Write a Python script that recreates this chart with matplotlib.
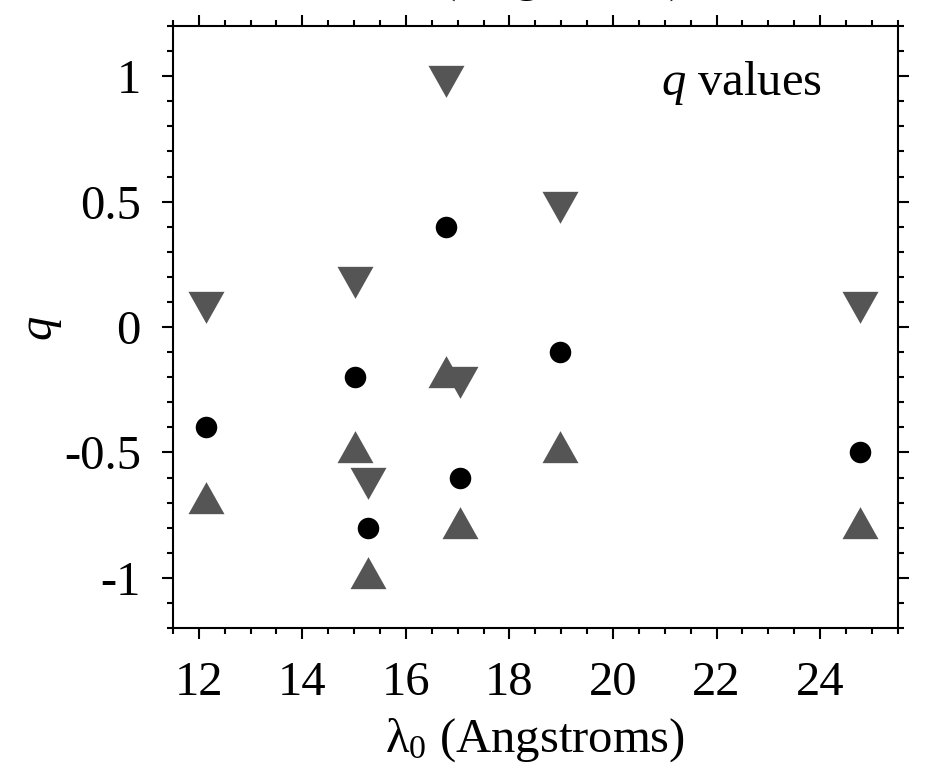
import numpy as np
import matplotlib
matplotlib.use("Agg")
import matplotlib.pyplot as plt

plt.rcParams["font.family"] = ["Liberation Serif", "DejaVu Serif"]
plt.rcParams["mathtext.fontset"] = "custom"
plt.rcParams["mathtext.rm"] = "Liberation Serif"
plt.rcParams["mathtext.it"] = "Liberation Serif:italic"
plt.rcParams["axes.unicode_minus"] = False

# line wavelengths (Angstroms) and q values
wavelength = [12.13, 15.01, 15.26, 16.78, 17.05, 18.97, 24.78]
q_best = [-0.4, -0.2, -0.8, 0.4, -0.6, -0.1, -0.5]
q_upper = [0.1, 0.2, -0.6, 1.0, -0.2, 0.5, 0.1]
q_lower = [-0.7, -0.5, -1.0, -0.2, -0.8, -0.5, -0.8]

x_ticks = [12, 14, 16, 18, 20, 22, 24]
y_ticks = [-1, -0.5, 0, 0.5, 1]
y_tick_labels = ["-1", "-0.5", "0", "0.5", "1"]

# triangles centred on their centroid
w, h = 36.0, 32.0
tri_up = [(0, 2 * h / 3), (-w / 2, -h / 3), (w / 2, -h / 3), (0, 2 * h / 3)]
tri_down = [(0, -2 * h / 3), (-w / 2, h / 3), (w / 2, h / 3), (0, -2 * h / 3)]
tri_ms = 2 * (2 * h / 3) * 0.72

gray = "#555555"

fig = plt.figure(figsize=(9.5, 7.74), dpi=100)
ax = fig.add_axes([0.182, 0.1886, 0.763, 0.7778])

ax.plot(wavelength, q_best, "o", color="black", ms=15.5, mew=0, zorder=3)
ax.plot(wavelength, q_upper, linestyle="none", marker=tri_down, color=gray,
        ms=tri_ms, mew=0, zorder=4)
ax.plot(wavelength, q_lower, linestyle="none", marker=tri_up, color=gray,
        ms=tri_ms, mew=0, zorder=4)

ax.set_xlim(11.5, 25.5)
ax.set_ylim(-1.2, 1.2)
ax.set_xticks(x_ticks)
ax.set_xticks(np.arange(11.5, 25.6, 0.5), minor=True)
ax.set_yticks(y_ticks)
ax.set_yticklabels(y_tick_labels)
ax.set_yticks(np.arange(-1.2, 1.21, 0.1), minor=True)

for s in ax.spines.values():
    s.set_linewidth(1.5)
ax.tick_params(which="both", direction="out", top=True, right=True,
               labelsize=35, width=1.5)
ax.tick_params(which="major", length=8)
ax.tick_params(which="minor", length=4)
ax.tick_params(axis="x", which="both", pad=16)
ax.tick_params(axis="y", which="both", pad=15)

ax.text(0.5, -0.206, r"$\mathrm{\lambda}_0$ (Angstroms)", transform=ax.transAxes,
        ha="center", va="baseline", fontsize=35)
# top axis label, mostly outside the figure as in the original
ax.text(0.5, 1.058, r"$\mathrm{\lambda}_0$ (Angstroms)", transform=ax.transAxes,
        ha="center", va="baseline", fontsize=35, clip_on=False)
ax.text(-0.185, 0.5, "q", transform=ax.transAxes, rotation=90,
        ha="center", va="center", fontsize=35, style="italic")
ax.text(0.895, 0.885, r"$q$ values", transform=ax.transAxes,
        ha="right", va="baseline", fontsize=35)

fig.savefig("out.png", dpi=100)
